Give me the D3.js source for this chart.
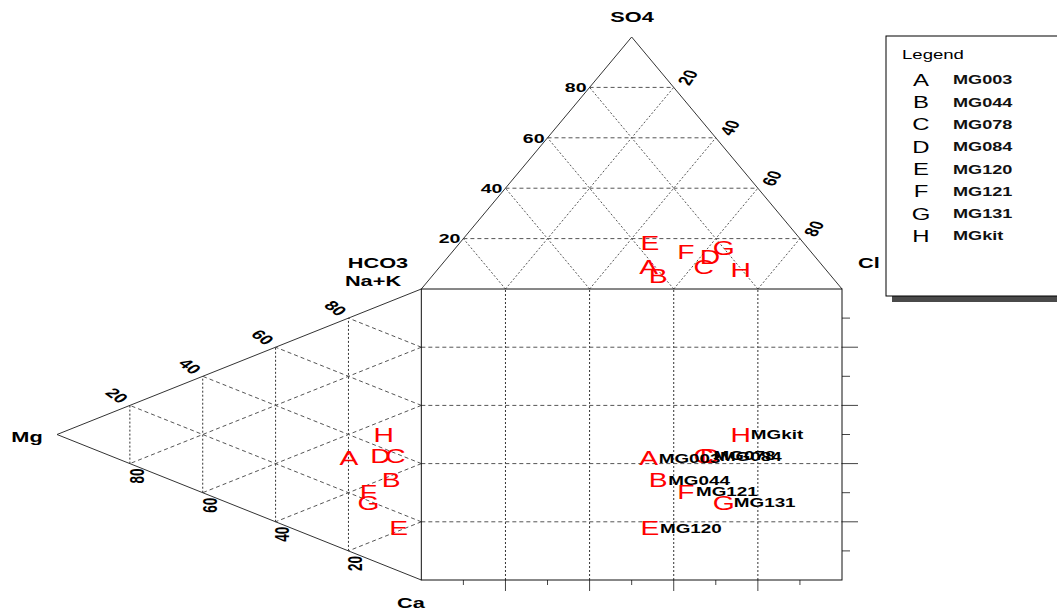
<!DOCTYPE html>
<html>
<head>
<meta charset="utf-8">
<script src="https://cdn.jsdelivr.net/npm/d3@7"></script>
<style>
  body { margin: 0; background: #fff; }
  svg { display: block; font-family: "Liberation Sans", Arial, sans-serif; }
</style>
</head>
<body>
<svg id="chart" width="1057" height="612"></svg>
<script>
// sample data, percent of meq
var samples = ["MG003", "MG044", "MG078", "MG084", "MG120", "MG121", "MG131", "MGkit"];
var letters = ["A", "B", "C", "D", "E", "F", "G", "H"];
var so4  = [8.7, 5.0, 8.8, 12.8, 18.1, 14.6, 16.2, 7.3];
var cl   = [49.7, 53.8, 62.7, 62.2, 45.3, 55.6, 63.8, 72.3];
var hco3 = [41.6, 41.2, 28.5, 25.0, 36.6, 29.8, 20.0, 20.4];
var mg   = [19.9, 8.3, 7.1, 11.2, 6.2, 14.5, 14.5, 10.3];
var nak  = [31.9, 30.2, 39.1, 37.0, 14.7, 23.1, 19.3, 44.7];
var ca   = [48.2, 61.5, 53.8, 51.8, 79.1, 62.4, 66.2, 45.0];
var ticks = [20, 40, 60, 80];
var minorTicks = [10, 30, 50, 70, 90];

var svg = d3.select("#chart");
var H = Math.sqrt(3) / 2 * 100;   // triangle height in data units
var SX = 1.45;                    // the picture is stretched sideways, text too

var x = d3.scaleLinear().domain([-H, 100]).range([57, 842]);
var y = d3.scaleLinear().domain([0, 100 + H]).range([580, 37]);

// top (anion) triangle: HCO3 left, Cl right, SO4 apex
function topPt(s, c) { return [c + s / 2, 100 + s * Math.sqrt(3) / 2]; }
// left (cation) triangle: Mg apex left, Na+K top, Ca bottom
function leftPt(m, n) { return [-m * Math.sqrt(3) / 2, m / 2 + n]; }

function seg(g, a, b, dash, col) {
  g.append("line")
    .attr("x1", x(a[0])).attr("y1", y(a[1]))
    .attr("x2", x(b[0])).attr("y2", y(b[1]))
    .attr("stroke", col || "#555").attr("stroke-width", 1)
    .attr("stroke-dasharray", dash || null);
}

// stretched text
function txt(g, px, py, s, rot, anchor) {
  return g.append("text")
    .attr("transform", "translate(" + px + "," + py + ") scale(" + SX + ",1)" + (rot ? " rotate(" + rot + ")" : ""))
    .attr("dy", "0.35em")
    .attr("text-anchor", anchor || "middle")
    .text(s);
}

var grid = svg.append("g");
ticks.forEach(function(t) {
  // top triangle grid
  seg(grid, topPt(t, 0), topPt(t, 100 - t), "4,3");
  seg(grid, topPt(0, t), topPt(100 - t, t), "2,2");
  seg(grid, topPt(0, 100 - t), topPt(100 - t, 0), "2,2");
  // left triangle grid
  seg(grid, leftPt(t, 0), leftPt(t, 100 - t), "2,2", "#333");
  seg(grid, leftPt(0, t), leftPt(100 - t, t), "4,3");
  seg(grid, leftPt(0, 100 - t), leftPt(100 - t, 0), "4,3");
  // square grid
  seg(grid, [t, 0], [t, 100], "2,2", "#333");
  seg(grid, [0, t], [100, t], "4,3");
});

// square ticks
var ax = svg.append("g").attr("stroke", "#444");
ticks.forEach(function(t) {
  ax.append("line").attr("x1", x(t)).attr("x2", x(t)).attr("y1", y(0)).attr("y2", y(0) + 11);
  ax.append("line").attr("x1", x(100)).attr("x2", x(100) + 16).attr("y1", y(t)).attr("y2", y(t));
});
minorTicks.forEach(function(t) {
  ax.append("line").attr("x1", x(t)).attr("x2", x(t)).attr("y1", y(0)).attr("y2", y(0) + 5);
  ax.append("line").attr("x1", x(100)).attr("x2", x(100) + 8).attr("y1", y(t)).attr("y2", y(t));
});

// outlines
var outline = svg.append("g");
seg(outline, [0, 100], topPt(100, 0), null, "#333");
seg(outline, topPt(100, 0), [100, 100], null, "#333");
seg(outline, [0, 100], leftPt(100, 0), null, "#333");
seg(outline, leftPt(100, 0), [0, 0], null, "#333");
outline.append("rect")
  .attr("x", x(0)).attr("y", y(100))
  .attr("width", x(100) - x(0)).attr("height", y(0) - y(100))
  .attr("fill", "none").attr("stroke", "#111");

// tick labels
var tl = svg.append("g").attr("font-size", 13.5).attr("font-weight", "bold").attr("fill", "#000");
ticks.forEach(function(t) {
  var p = topPt(t, 0);
  txt(tl, x(p[0]) - 3, y(p[1]), t, 0, "end");
  p = topPt(100 - t, t);
  txt(tl, x(p[0]) + 14, y(p[1]) - 10, t, -65);
  p = leftPt(100 - t, t);
  txt(tl, x(p[0]) - 13, y(p[1]) - 10, t, 45);
  p = leftPt(t, 0);
  txt(tl, x(p[0]) + 7, y(p[1]) + 5, t, -90, "end");
});

// axis titles
var at = svg.append("g").attr("font-size", 15).attr("font-weight", "bold");
txt(at, 632, 17, "SO4");
txt(at, 869, 263, "Cl");
txt(at, 378, 263, "HCO3");
txt(at, 373, 281, "Na+K");
txt(at, 27, 437, "Mg");
txt(at, 411, 603, "Ca");

// points as letters
var pts = svg.append("g").attr("font-size", 19.5).attr("fill", "red");
var names = svg.append("g").attr("font-size", 13).attr("font-weight", "bold").attr("fill", "#000");
samples.forEach(function(s, i) {
  var a = topPt(so4[i], cl[i]);
  var c = leftPt(mg[i], nak[i]);
  var sq = [a[0], c[1]];
  [a, c, sq].forEach(function(p) {
    txt(pts, x(p[0]), y(p[1]), letters[i]);
  });
  txt(names, x(sq[0]) + 10, y(sq[1]), s, 0, "start");
});

// legend
var lg = svg.append("g");
lg.append("rect").attr("x", 892).attr("y", 42).attr("width", 200).attr("height", 260).attr("fill", "#4a4a4a");
lg.append("rect").attr("x", 886).attr("y", 36).attr("width", 200).attr("height", 260)
  .attr("fill", "#fff").attr("stroke", "#000");
txt(lg, 902, 55, "Legend", 0, "start").attr("font-size", 12.8);
samples.forEach(function(s, i) {
  var yy = 80 + i * 22.3;
  txt(lg, 921, yy, letters[i]).attr("font-size", 16.5);
  txt(lg, 953, yy, s, 0, "start").attr("font-size", 12.5).attr("font-weight", "bold").attr("fill", "#111");
});
</script>
</body>
</html>
